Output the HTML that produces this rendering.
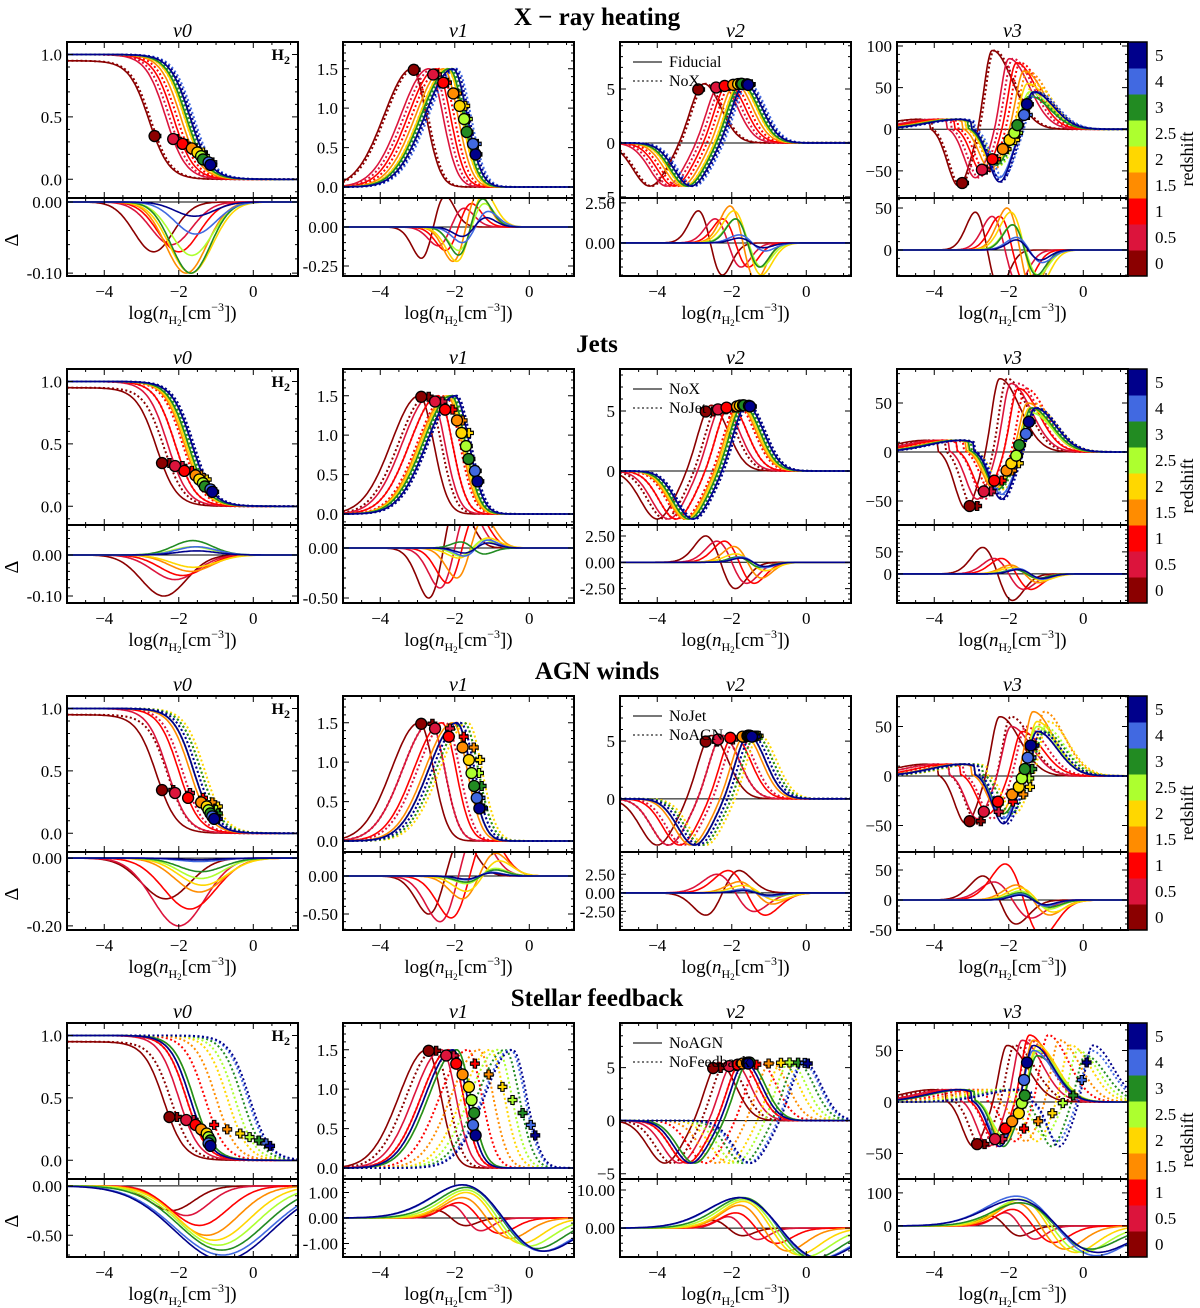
<!DOCTYPE html>
<html><head><meta charset="utf-8"><style>
body{margin:0;background:#fff}
svg{display:block;font-family:"Liberation Serif",serif}
</style></head><body>
<svg id="fig" xmlns="http://www.w3.org/2000/svg" width="1200" height="1308" viewBox="0 0 1200 1308"></svg>
<script>
const redshifts=['0','0.5','1','1.5','2','2.5','3','4','5'];
const zColors=['#8b0000','#dc143c','#ff0000','#ff8c00','#ffd700','#adff2f','#228b22','#4169e1','#00008b'];
const rowTitles=['X \u2212 ray heating','Jets','AGN winds','Stellar feedback'];
const colTitles=['v0','v1','v2','v3'];
const legendLabels=[['Fiducial','NoX'],['NoX','NoJet'],['NoJet','NoAGN'],['NoAGN','NoFeedback']];
const centersSolid=[[-2.8,-2.35,-2.15,-1.95,-1.85,-1.8,-1.8,-1.7,-1.7],[-2.6,-2.3,-2.1,-1.85,-1.8,-1.75,-1.75,-1.65,-1.65],[-2.6,-2.3,-2.0,-1.7,-1.6,-1.6,-1.6,-1.6,-1.6],[-2.4,-2.0,-1.8,-1.7,-1.6,-1.6,-1.6,-1.7,-1.7]];
const centersDotted=[[-2.75,-2.25,-2.05,-1.85,-1.7,-1.7,-1.75,-1.6,-1.65],[-2.4,-2.1,-1.9,-1.7,-1.6,-1.7,-1.7,-1.6,-1.6],[-2.3,-1.9,-1.6,-1.4,-1.3,-1.4,-1.4,-1.5,-1.5],[-2.2,-1.8,-1.3,-1.0,-0.7,-0.5,-0.3,-0.15,-0.1]];
const v3Peak=[[95,85,80,70,55,45,40,45,45],[75,70,65,50,45,40,45,45,45],[60,50,45,65,55,50,45,45,45],[55,60,65,60,55,50,45,50,55]];
const v3Dip=[[-70,-60,-55,-50,-45,-45,-45,-60,-65],[-60,-50,-45,-40,-40,-40,-40,-45,-50],[-50,-45,-40,-40,-40,-40,-40,-45,-50],[-45,-45,-40,-40,-40,-35,-45,-40,-45]];
const deltaAmp=[
 [[-0.07,-0.06,-0.07,-0.1,-0.1,-0.075,-0.1,-0.045,-0.02],[-0.2,-0.12,-0.15,-0.22,-0.22,-0.15,-0.18,-0.1,-0.06],[2,1.5,1.5,2.3,2,1.5,1.5,0.5,0.3],[45,40,40,50,45,30,30,15,12]],
 [[-0.1,-0.06,-0.05,-0.04,-0.03,0.02,0.035,0.02,0.01],[-0.5,-0.4,-0.35,-0.3,-0.1,-0.08,0.06,-0.08,-0.05],[2.5,2,2,1.5,0.8,0.5,0.5,0.5,0.4],[60,35,35,20,15,10,10,12,10]],
 [[-0.12,-0.2,-0.15,-0.1,-0.08,-0.06,-0.04,-0.01,-0.005],[-0.5,-0.6,-0.55,-0.3,-0.2,-0.1,-0.08,-0.05,-0.04],[-3,2.5,3,1.5,1,0.5,0.4,0.5,0.3],[40,30,60,25,20,15,12,10,8]],
 [[-0.25,-0.3,-0.4,-0.5,-0.55,-0.6,-0.65,-0.7,-0.75],[0.3,0.5,0.6,0.8,1,1.1,1.2,1.3,1.3],[2,3,4,6,7,7.5,8,8,8],[30,40,50,70,80,80,70,90,80]]];
const mainY=[
 [[-0.15,1.1],[-0.14,1.84],[-5.1,9.35],[-82.6,104.8]],
 [[-0.15,1.1],[-0.14,1.84],[-4.5,8.5],[-74.5,84.7]],
 [[-0.15,1.1],[-0.14,1.84],[-4.6,8.9],[-76.8,80.8]],
 [[-0.15,1.1],[-0.14,1.84],[-5.5,9.2],[-74.8,76.7]]];
const mainTicks=[[0,0.5,1],[0,0.5,1,1.5],[-5,0,5],[-50,0,50,100]];
const mainTickLabels=[['0.0','0.5','1.0'],['0.0','0.5','1.0','1.5'],['\u22125','0','5'],['\u221250','0','50','100']];
const deltaY=[
 [[-0.104,0.0056],[-0.314,0.186],[-2.06,2.8],[-31,61.9]],
 [[-0.117,0.073],[-0.55,0.23],[-3.87,3.54],[-66,111]],
 [[-0.212,0.018],[-0.71,0.316],[-5,5.5],[-50,80]],
 [[-0.72,0.07],[-1.53,1.53],[-7.6,12.9],[-94,142]]];
const deltaTicks=[
 [[-0.1,0],[-0.25,0],[0,2.5],[0,50]],
 [[-0.1,0],[-0.5,0],[-2.5,0,2.5],[0,50]],
 [[-0.2,0],[-0.5,0],[-2.5,0,2.5],[-50,0,50]],
 [[-0.5,0],[-1,0,1],[0,10],[0,100]]];
const deltaTickLabels=[
 [['-0.10','0.00'],['-0.25','0.00'],['0.00','2.50'],['0','50']],
 [['-0.10','0.00'],['-0.50','0.00'],['-2.50','0.00','2.50'],['0','50']],
 [['-0.20','0.00'],['-0.50','0.00'],['-2.50','0.00','2.50'],['-50','0','50']],
 [['-0.50','0.00'],['-1.00','0.00','1.00'],['0.00','10.00'],['0','100']]];
const xTicks=[-4,-2,0];
const xTickLabels=['\u22124','\u22122','0'];

const NS='http://www.w3.org/2000/svg';
const svg=document.getElementById('fig');
function mk(tag,attrs,parent){const e=document.createElementNS(NS,tag);for(const k in attrs)e.setAttribute(k,attrs[k]);(parent||svg).appendChild(e);return e;}
const colLeft=[67,343,620,897],W=231,XMIN=-5,XMAX=1.2;
function sx(c,x){return colLeft[c]+(x-XMIN)/(XMAX-XMIN)*W;}
function g(x,m,w){return Math.exp(-0.5*((x-m)/w)*((x-m)/w));}
function shape(col,x,c,r,zi){
 if(col===0){const top=zi===0?0.95:1;return top/(1+Math.exp((x-c)/0.27));}
 if(col===1){const p=c-0.35;return 1.5*(x<p?g(x,p,0.75):g(x,p,0.38));}
 if(col===2){const p=c+0.05;return 5.5*(x<p?g(x,p,0.35):g(x,p,0.45))-4*g(x,c-1.4,0.45);}
 const p=c+0.35,d=c-0.55;
 return v3Peak[r][zi]*(x<p?g(x,p,0.2):g(x,p,0.55))+v3Dip[r][zi]*g(x,d,0.3)+12*g(x,c-1.6,0.9)*(x<c-1.3?1:0.3);
}
function markerOffset(c,zi){
 if(c===0)return 0.15+0.05*zi;
 if(c===1)return -0.3+0.07*zi;
 if(c===2)return -0.1+0.03*zi;
 return -0.45+0.08*zi;
}
function dshape(col,x,m,w,a){
 if(col===0)return a*g(x,m,w);
 return a*(-(x-m)/w)*g(x,m,w)*1.65;
}
let clipId=0;
function axes(r,c,top,bot,yr,ticks,labels,name){
 const ys=v=>bot-(v-yr[0])/(yr[1]-yr[0])*(bot-top);
 const grp=mk('g',{});
 
 
 const id='cl'+(clipId++);
 const cp=mk('clipPath',{id:id},grp);mk('rect',{x:colLeft[c],y:top,width:W,height:bot-top},cp);
 const plot=mk('g',{'clip-path':'url(#'+id+')'},grp);
 const L=colLeft[c],R=L+W;
 let d='';
 for(let x=-5;x<=1.01;x+=0.5){const X=sx(c,x);const maj=Math.abs(x%2)<1e-6;const len=maj?6:3;d+=`M${X},${bot}v${-len}M${X},${top}v${len}`;}
 const step=ticks.length>1?ticks[1]-ticks[0]:1;
 for(let v=Math.ceil(yr[0]/(step/5))*(step/5);v<=yr[1];v+=step/5){const Y=ys(v);const maj=ticks.some(t=>Math.abs(t-v)<step/50);const len=maj?6:3;d+=`M${L},${Y}h${len}M${R},${Y}h${-len}`;}
 mk('path',{d:d,stroke:'#000','stroke-width':1,fill:'none'},grp);
 ticks.forEach((t,i)=>{if(t<yr[0]||t>yr[1])return;const tx=mk('text',{x:L-5,y:ys(t)+6,'text-anchor':'end','font-size':17},grp);tx.textContent=labels[i];});
 return {plot,ys,grp,L,R};
}
function pathFrom(c,ys,f){let d='';for(let x=XMIN;x<=XMAX+1e-9;x+=0.03){d+=(d?'L':'M')+sx(c,x).toFixed(1)+','+ys(f(x)).toFixed(1);}return d;}

for(let r=0;r<4;r++){
 const oy=r*327;
 const t=mk('text',{x:597,y:25+oy,'text-anchor':'middle','font-size':25,'font-weight':'bold'});t.textContent=rowTitles[r];
 
 for(let c=0;c<4;c++){
  const mT=42+oy,mB=198+oy,dB=276+oy;
  const ct=mk('text',{x:colLeft[c]+W/2,y:37+oy,'text-anchor':'middle','font-size':20,'font-style':'italic'});ct.textContent=colTitles[c];
  
  const A=axes(r,c,mT,mB,mainY[r][c],mainTicks[c],mainTickLabels[c],'main-panel');
  if(c>=2)mk('line',{x1:A.L,x2:A.R,y1:A.ys(0),y2:A.ys(0),stroke:'#000','stroke-width':1},A.plot);
  for(let zi=0;zi<9;zi++){
   const cs=centersSolid[r][zi],cd=centersDotted[r][zi];
   const p1=mk('path',{d:pathFrom(c,A.ys,x=>shape(c,x,cs,r,zi)),stroke:zColors[zi],'stroke-width':1.6,fill:'none'},A.plot);
   
   const p2=mk('path',{d:pathFrom(c,A.ys,x=>shape(c,x,cd,r,zi)),stroke:zColors[zi],'stroke-width':2,'stroke-dasharray':'2,2.5',fill:'none'},A.plot);
   
  }
  for(let zi=0;zi<9;zi++){
   const cs=centersSolid[r][zi],cd=centersDotted[r][zi];
   const mx=markerOffset(c,zi);
   const px=sx(c,cd+mx),py=A.ys(shape(c,cd+mx,cd,r,zi));
   const pl=mk('path',{d:`M${px-5},${py}h10M${px},${py-5}v10`,stroke:'#000','stroke-width':4.5},A.grp);
   mk('path',{d:`M${px-4},${py}h8M${px},${py-4}v8`,stroke:zColors[zi],'stroke-width':2.2},A.grp);
   
   const cx=sx(c,cs+mx),cy=A.ys(shape(c,cs+mx,cs,r,zi));
   const ci=mk('circle',{cx:cx,cy:cy,r:5.5,fill:zColors[zi],stroke:'#000','stroke-width':1.3},A.grp);
   
  }
  mk('rect',{x:A.L,y:mT,width:W,height:mB-mT,fill:'none',stroke:'#000','stroke-width':2},A.grp);
  if(c===0){const h=mk('text',{x:A.R-8,y:mT+18,'text-anchor':'end','font-size':16,'font-weight':'bold'});h.innerHTML='H<tspan font-size="12" dy="4">2</tspan>';}
  if(c===2){
   const lg=mk('g',{});
   mk('line',{x1:633,x2:662,y1:62+oy,y2:62+oy,stroke:'#777','stroke-width':2},lg);
   mk('line',{x1:633,x2:662,y1:81+oy,y2:81+oy,stroke:'#777','stroke-width':2,'stroke-dasharray':'2,2.5'},lg);
   const a=mk('text',{x:669,y:67+oy,'font-size':16},lg);a.textContent=legendLabels[r][0];
   const b=mk('text',{x:669,y:86+oy,'font-size':16},lg);b.textContent=legendLabels[r][1];
  }
  const D=axes(r,c,mB,dB,deltaY[r][c],deltaTicks[r][c],deltaTickLabels[r][c],'delta-panel');
  mk('line',{x1:D.L,x2:D.R,y1:D.ys(0),y2:D.ys(0),stroke:'#000','stroke-width':1},D.plot);
  for(let zi=0;zi<9;zi++){
   const cs=centersSolid[r][zi],cd=centersDotted[r][zi];
   const m=(cs+cd)/2+(c===0?0.1:0.2),w=(c===0?0.5:0.3)+Math.abs(cd-cs)/2;
   const a=deltaAmp[r][c][zi];
   const p=mk('path',{d:pathFrom(c,D.ys,x=>dshape(c,x,m,w,a)),stroke:zColors[zi],'stroke-width':1.6,fill:'none'},D.plot);
   
  }
  mk('rect',{x:D.L,y:mB,width:W,height:dB-mB,fill:'none',stroke:'#000','stroke-width':2},D.grp);
  xTicks.forEach((v,i)=>{const tx=mk('text',{x:sx(c,v),y:dB+21,'text-anchor':'middle','font-size':17});tx.textContent=xTickLabels[i];});
  const xl=mk('text',{x:colLeft[c]+W/2,y:dB+43,'text-anchor':'middle','font-size':19});
  xl.innerHTML='log(<tspan font-style="italic">n</tspan><tspan font-size="12" dy="5">H</tspan><tspan font-size="9" dy="2">2</tspan><tspan dy="-7">[cm</tspan><tspan font-size="12" dy="-8">\u22123</tspan><tspan dy="8">])</tspan>';
  
  if(c===0){const dl=mk('text',{x:18,y:240+oy,'text-anchor':'middle','font-size':20,transform:`rotate(-90 18 ${240+oy})`});dl.textContent='\u0394';}
 }
 const cb=mk('g',{});
 const segH=(276-42)/9;
 for(let zi=0;zi<9;zi++){
  const y=42+oy+(8-zi)*segH;
  mk('rect',{x:1128,y:y,width:19,height:segH+0.5,fill:zColors[zi]},cb);
  const tl=mk('text',{x:1155,y:y+segH/2+6,'font-size':17},cb);tl.textContent=redshifts[zi];
 }
 mk('rect',{x:1128,y:42+oy,width:19,height:234,fill:'none',stroke:'#000','stroke-width':1.5},cb);
 const rl=mk('text',{x:1193,y:159+oy,'text-anchor':'middle','font-size':18,transform:`rotate(-90 1193 ${159+oy})`},cb);rl.textContent='redshift';
}
</script>
</body></html>
